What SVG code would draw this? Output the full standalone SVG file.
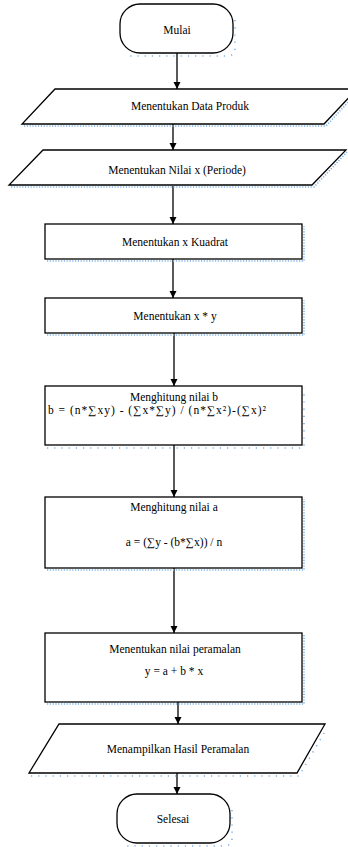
<svg xmlns="http://www.w3.org/2000/svg" width="348" height="847" viewBox="0 0 348 847">
<defs>
<style>
.s{fill:#fff;stroke:#000;stroke-width:1.3}
.sh{fill:none;stroke:#7fb2e5;stroke-width:1.6;stroke-dasharray:1.2 1.6}
.sh2{fill:none;stroke:#7fb2e5;stroke-width:1.6;stroke-dasharray:1.2 6}
.t{font-family:"Liberation Serif","Times New Roman",serif;font-size:11.5px;fill:#000;text-anchor:middle}
.c{stroke:#000;stroke-width:1.3;fill:none;marker-end:url(#ah)}
</style>
<marker id="ah" markerWidth="8" markerHeight="8" refX="7" refY="4" orient="auto" markerUnits="userSpaceOnUse">
<path d="M0,0.5 L7,4 L0,7.5 Z" fill="#000"/>
</marker>
</defs>
<rect width="348" height="847" fill="#fff"/>
<g id="connectors">
<line class="c" x1="177" y1="53" x2="177" y2="89"/>
<line class="c" x1="173" y1="124" x2="173" y2="150"/>
<line class="c" x1="173" y1="186" x2="173" y2="224"/>
<line class="c" x1="173" y1="259" x2="173" y2="298"/>
<line class="c" x1="174" y1="333" x2="174" y2="386"/>
<line class="c" x1="174" y1="445" x2="174" y2="497"/>
<line class="c" x1="174" y1="568" x2="174" y2="633"/>
<line class="c" x1="178" y1="702" x2="178" y2="724"/>
<line class="c" x1="177" y1="773" x2="177" y2="794"/>
</g>
<g id="mulai">
<path class="sh2" d="M235,20 L235,52 Q233,56 226,56 L130,56"/>
<rect class="s" x="120" y="4" width="113" height="49" rx="20"/>
<text class="t" x="177" y="34">Mulai</text>
</g>
<g id="data-produk">
<path class="sh" d="M24,126 L326,126 L350,100"/>
<polygon class="s" points="55,89 357,89 324,124 22,124"/>
<text class="t" x="190" y="110">Menentukan  Data Produk</text>
</g>
<g id="nilai-x">
<path class="sh" d="M11,187 L314,187 L347,152"/>
<polygon class="s" points="43,150 346,150 312,185 9,185"/>
<text class="t" x="177" y="174">Menentukan Nilai x (Periode)</text>
</g>
<g id="x-kuadrat">
<path class="sh" d="M47,261 L304,261 L304,226"/>
<rect class="s" x="45" y="224" width="257" height="35"/>
<text class="t" x="175" y="246">Menentukan x Kuadrat</text>
</g>
<g id="x-kali-y">
<path class="sh" d="M47,335 L304,335 L304,300"/>
<rect class="s" x="45" y="298" width="257" height="35"/>
<text class="t" x="175" y="320">Menentukan x * y</text>
</g>
<g id="nilai-b">
<path class="sh2" d="M47,448 L304,448 L304,388"/>
<rect class="s" x="45" y="386" width="257" height="59"/>
<text class="t" x="174" y="401">Menghitung nilai b</text>
<text class="t" x="48" y="414" style="text-anchor:start" textLength="218">b = (n*∑xy) - (∑x*∑y) / (n*∑x²)-(∑x)²</text>
</g>
<g id="nilai-a">
<path class="sh" d="M47,570 L304,570 L304,499"/>
<rect class="s" x="45" y="497" width="257" height="71"/>
<text class="t" x="174" y="511">Menghitung nilai a</text>
<text class="t" x="174" y="546">a = (∑y - (b*∑x)) / n</text>
</g>
<g id="peramalan">
<path class="sh" d="M47,704 L304,704 L304,635"/>
<rect class="s" x="45" y="633" width="257" height="69"/>
<text class="t" x="175" y="653">Menentukan nilai peramalan</text>
<text class="t" x="174" y="675">y = a + b * x</text>
</g>
<g id="hasil">
<path class="sh2" d="M31,776 L299,776 L327,728"/>
<polygon class="s" points="59,724 325,724 297,773 29,773"/>
<text class="t" x="178" y="753">Menampilkan Hasil Peramalan</text>
</g>
<g id="selesai">
<path class="sh2" d="M232,810 L232,842 Q230,846 223,846 L127,846"/>
<rect class="s" x="117" y="794" width="113" height="49" rx="20"/>
<text class="t" x="173" y="823">Selesai</text>
</g>
</svg>
